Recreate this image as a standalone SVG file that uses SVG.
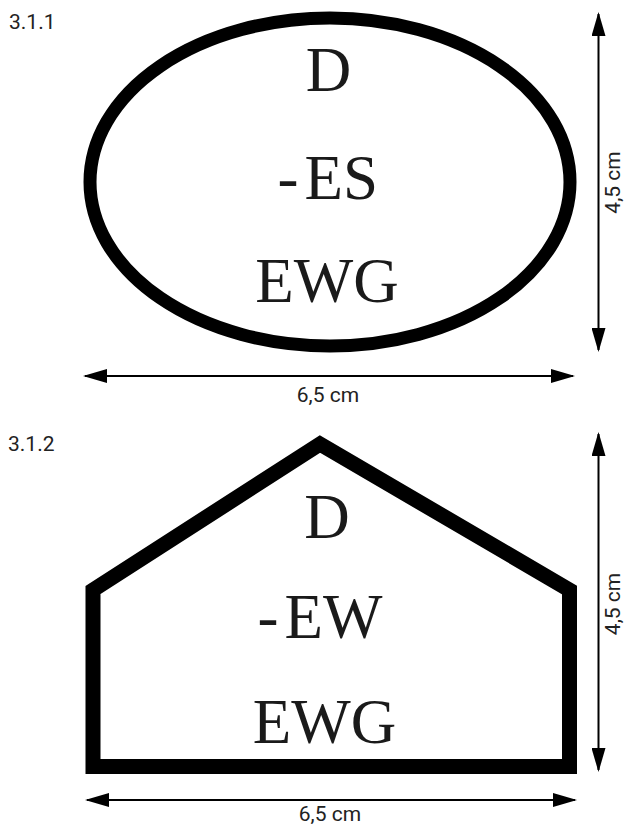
<svg xmlns="http://www.w3.org/2000/svg" width="626" height="827" viewBox="0 0 626 827">
<style>
.lbl{font-family:Roboto,"Liberation Sans",sans-serif;font-size:21px;fill:#222}
.big{font-family:"Liberation Serif","Times New Roman",serif;font-size:63px;fill:#1a1a1a}
.shape{fill:#fff;stroke:#000}
.dim{stroke:#000;stroke-width:2;fill:none;marker-start:url(#ah);marker-end:url(#ah)}
</style>
<defs>
<marker id="ah" viewBox="0 0 24 14" refX="22" refY="7" markerWidth="24" markerHeight="14" markerUnits="userSpaceOnUse" orient="auto-start-reverse">
<path d="M0,0 L24,7 L0,14 Z" fill="#000"/>
</marker>
</defs>
<rect width="626" height="827" fill="#fff"/>
<text class="lbl" x="9" y="29">3.1.1</text>
<text class="lbl" x="8" y="451">3.1.2</text>
<g id="node-oval">
<ellipse class="shape" cx="330" cy="182" rx="240" ry="164" stroke-width="13"/>
<text class="big" x="328.5" y="91" text-anchor="middle">D</text>
<text class="big" x="277.5" y="199">-<tspan dx="6">ES</tspan></text>
<text class="big" x="327" y="302" text-anchor="middle">EWG</text>
</g>
<g id="node-house">
<polygon class="shape" points="93,590 320,444 569.5,590 569.5,766.5 93,766.5" stroke-width="15" stroke-linejoin="miter"/>
<text class="big" x="327" y="538" text-anchor="middle">D</text>
<text class="big" x="257.5" y="638">-<tspan dx="6">EW</tspan></text>
<text class="big" x="324.5" y="743" text-anchor="middle">EWG</text>
</g>
<g id="connectors">
<line class="dim" x1="598.5" y1="14" x2="598.5" y2="350"/>
<line class="dim" x1="85" y1="376" x2="573" y2="376"/>
<line class="dim" x1="598.5" y1="434" x2="598.5" y2="770"/>
<line class="dim" x1="87" y1="800" x2="575" y2="800"/>
</g>
<text class="lbl" x="328" y="402" text-anchor="middle">6,5 cm</text>
<text class="lbl" x="330" y="821" text-anchor="middle">6,5 cm</text>
<text class="lbl" transform="translate(620,182.5) rotate(-90)" text-anchor="middle">4,5 cm</text>
<text class="lbl" transform="translate(620,604) rotate(-90)" text-anchor="middle">4,5 cm</text>
</svg>
